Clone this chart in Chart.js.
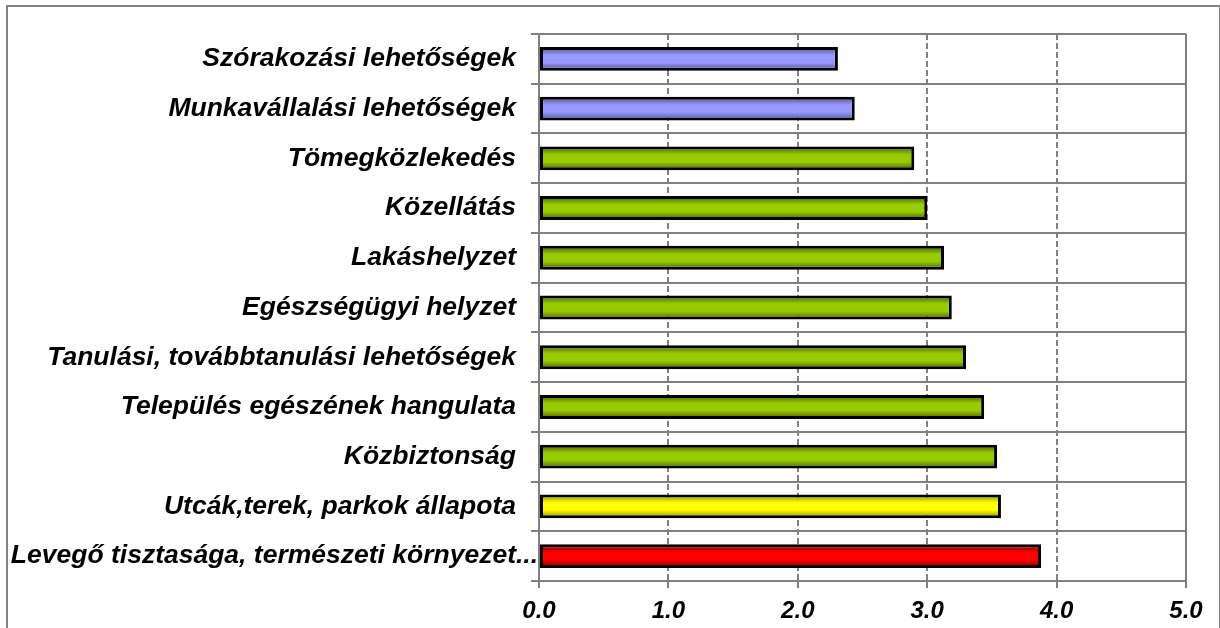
<!DOCTYPE html>
<html>
<head>
<meta charset="utf-8">
<script src="https://cdn.jsdelivr.net/npm/chart.js@4"></script>
<style>
  html, body { margin: 0; padding: 0; background: #fff; }
  #wrap { position: relative; width: 1220px; height: 628px; overflow: hidden; }
  #frame {
    position: absolute; left: 6px; top: 5px; width: 1211px; height: 640px;
    border-top: 2px solid #808080; border-left: 2px solid #808080; border-right: 1px solid #808080;
    pointer-events: none;
  }
  canvas { position: absolute; left: 0; top: 0; }
</style>
</head>
<body>
<div id="wrap">
  <canvas id="chart" width="1220" height="628"></canvas>
  <div id="frame"></div>
</div>
<script>
const categories = [
  'Szórakozási lehetőségek',
  'Munkavállalási lehetőségek',
  'Tömegközlekedés',
  'Közellátás',
  'Lakáshelyzet',
  'Egészségügyi helyzet',
  'Tanulási, továbbtanulási lehetőségek',
  'Település egészének hangulata',
  'Közbiztonság',
  'Utcák,terek, parkok állapota',
  'Levegő tisztasága, természeti környezet'
];
const scores = [2.31, 2.44, 2.90, 3.00, 3.13, 3.19, 3.30, 3.44, 3.54, 3.57, 3.88];
const xTicks = [0, 1, 2, 3, 4, 5];
// last label is cut short in the axis, an ellipsis is drawn after it
const truncated = [10];

// colour group per bar
const barGroups = ['purple', 'purple', 'green', 'green', 'green', 'green', 'green', 'green', 'green', 'yellow', 'red'];
const palette = {
  purple: { edge: '#50508f', mid: '#9999ff' },
  green:  { edge: '#435a00', mid: '#99cc00' },
  yellow: { edge: '#858500', mid: '#ffff00' },
  red:    { edge: '#700000', mid: '#ff0000' }
};

const BAR_PCT = 0.48;
const LABEL_FONT = { family: "'Liberation Sans', Arial, sans-serif", size: 26.5, weight: 'bold', style: 'italic' };
const Y_TICK_LEN = 8;
const Y_PAD = 15;

// shaded fill: dark at top and bottom edge, bright in the middle
function barFill(ctx) {
  const pal = palette[barGroups[ctx.dataIndex]];
  const yScale = ctx.chart.scales.y;
  if (!yScale || !yScale.height) return pal.mid;
  const c = yScale.getPixelForValue(ctx.dataIndex);
  const half = (yScale.height / categories.length) * BAR_PCT / 2;
  const g = ctx.chart.ctx.createLinearGradient(0, c - half, 0, c + half);
  g.addColorStop(0, pal.edge);
  g.addColorStop(0.35, pal.mid);
  g.addColorStop(0.65, pal.mid);
  g.addColorStop(1, pal.edge);
  return g;
}

const ellipsisPlugin = {
  id: 'ellipsis',
  afterDraw(chart) {
    const yScale = chart.scales.y;
    const ctx = chart.ctx;
    ctx.save();
    ctx.font = `${LABEL_FONT.style} ${LABEL_FONT.weight} ${LABEL_FONT.size}px ${LABEL_FONT.family}`;
    ctx.fillStyle = '#000';
    ctx.textAlign = 'left';
    ctx.textBaseline = 'middle';
    truncated.forEach((i) => {
      ctx.fillText('...', yScale.right - Y_TICK_LEN - Y_PAD, yScale.getPixelForValue(i));
    });
    ctx.restore();
  }
};

new Chart(document.getElementById('chart'), {
  type: 'bar',
  data: {
    labels: categories,
    datasets: [{
      data: scores,
      backgroundColor: barFill,
      borderColor: '#000',
      borderWidth: 3,
      borderSkipped: false,
      barPercentage: BAR_PCT,
      categoryPercentage: 1
    }]
  },
  options: {
    indexAxis: 'y',
    responsive: false,
    animation: false,
    layout: { padding: { top: 34, right: 34, bottom: 0, left: 0 } },
    plugins: {
      legend: { display: false },
      tooltip: { enabled: false }
    },
    scales: {
      x: {
        min: 0,
        max: 5,
        afterBuildTicks: (scale) => { scale.ticks = xTicks.map((v) => ({ value: v })); },
        afterFit: (scale) => { scale.height = 47; },
        ticks: {
          callback: (v) => Number(v).toFixed(1),
          color: '#000',
          font: { ...LABEL_FONT, size: 24 },
          padding: 9,
          maxRotation: 0
        },
        grid: {
          color: '#808080',
          lineWidth: 2,
          tickLength: 7
        },
        border: {
          color: '#808080',
          width: 2,
          dash: (c) => (c.tick && c.tick.value > 0 && c.tick.value < 5) ? [6, 3] : []
        }
      },
      y: {
        afterFit: (scale) => { scale.width = 539; },
        ticks: {
          color: '#000',
          font: LABEL_FONT,
          padding: Y_PAD,
          autoSkip: false
        },
        grid: {
          color: '#808080',
          lineWidth: 2,
          offset: true,
          tickLength: Y_TICK_LEN
        },
        border: { color: '#808080', width: 2 }
      }
    }
  },
  plugins: [ellipsisPlugin]
});
</script>
</body>
</html>
